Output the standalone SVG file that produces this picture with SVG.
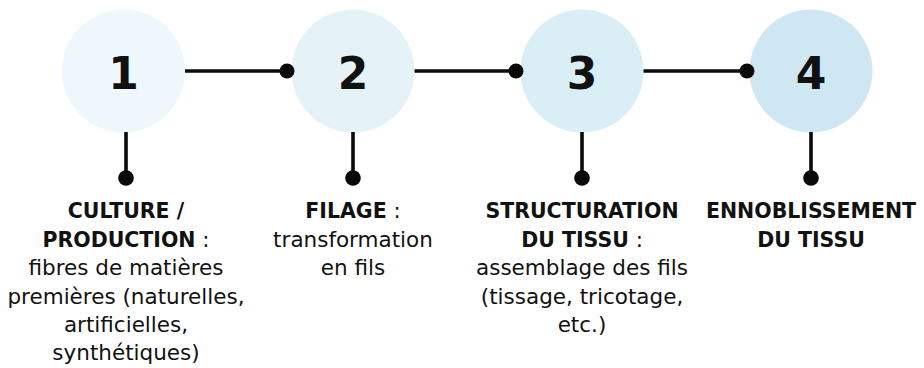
<svg xmlns="http://www.w3.org/2000/svg" width="924" height="368" viewBox="0 0 924 368">
  <style>
    .num { font-family: "DejaVu Sans", "Liberation Sans", sans-serif; font-weight: bold; font-size: 44px; fill: #111111; text-anchor: middle; }
    .lbl { font-family: "DejaVu Sans", "Liberation Sans", sans-serif; font-size: 21.5px; fill: #111111; text-anchor: middle; }
    .b { font-weight: bold; font-size: 20.5px; }
    .line { stroke: #0a0a0a; stroke-width: 3.6; fill: none; }
    .dot { fill: #0a0a0a; }
  </style>
  <rect width="924" height="368" fill="#ffffff"/>
  <g id="node-1">
    <circle cx="123.5" cy="71" r="61.5" fill="#EEF7FB"/>
    <text class="num" x="123.5" y="88.5">1</text>
  </g>
  <g id="node-2">
    <circle cx="353" cy="71" r="61.5" fill="#E5F3F9"/>
    <text class="num" x="353" y="88.5">2</text>
  </g>
  <g id="node-3">
    <circle cx="582" cy="71" r="61.5" fill="#DAEEF6"/>
    <text class="num" x="582" y="88.5">3</text>
  </g>
  <g id="node-4">
    <circle cx="811" cy="71" r="61.5" fill="#CFE6F3"/>
    <text class="num" x="811" y="88.5">4</text>
  </g>
  <g id="connectors">
    <line class="line" x1="185" y1="71" x2="287" y2="71"/>
    <circle class="dot" cx="287" cy="71" r="7.5"/>
    <line class="line" x1="414.5" y1="71" x2="516" y2="71"/>
    <circle class="dot" cx="516" cy="71" r="7.5"/>
    <line class="line" x1="643.5" y1="71" x2="747" y2="71"/>
    <circle class="dot" cx="747" cy="71" r="7.5"/>
    <line class="line" x1="126" y1="132" x2="126" y2="178"/>
    <circle class="dot" cx="126" cy="178" r="7.8"/>
    <line class="line" x1="353" y1="132" x2="353" y2="178"/>
    <circle class="dot" cx="353" cy="178" r="7.8"/>
    <line class="line" x1="582" y1="132" x2="582" y2="178"/>
    <circle class="dot" cx="582" cy="178" r="7.8"/>
    <line class="line" x1="811" y1="132" x2="811" y2="178"/>
    <circle class="dot" cx="811" cy="178" r="7.8"/>
  </g>
  <g id="label-1">
    <text class="lbl" x="126" y="218"><tspan class="b">CULTURE /</tspan></text>
    <text class="lbl" x="126" y="247"><tspan class="b">PRODUCTION</tspan> :</text>
    <text class="lbl" x="126" y="275">fibres de matières</text>
    <text class="lbl" x="126" y="304">premières (naturelles,</text>
    <text class="lbl" x="126" y="332">artificielles,</text>
    <text class="lbl" x="126" y="360">synthétiques)</text>
  </g>
  <g id="label-2">
    <text class="lbl" x="353" y="218"><tspan class="b">FILAGE</tspan> :</text>
    <text class="lbl" x="353" y="247">transformation</text>
    <text class="lbl" x="353" y="275">en fils</text>
  </g>
  <g id="label-3">
    <text class="lbl" x="582" y="218"><tspan class="b">STRUCTURATION</tspan></text>
    <text class="lbl" x="582" y="247"><tspan class="b">DU TISSU</tspan> :</text>
    <text class="lbl" x="582" y="275">assemblage des fils</text>
    <text class="lbl" x="582" y="304">(tissage, tricotage,</text>
    <text class="lbl" x="582" y="332">etc.)</text>
  </g>
  <g id="label-4">
    <text class="lbl" x="811" y="218"><tspan class="b">ENNOBLISSEMENT</tspan></text>
    <text class="lbl" x="811" y="247"><tspan class="b">DU TISSU</tspan></text>
  </g>
</svg>
